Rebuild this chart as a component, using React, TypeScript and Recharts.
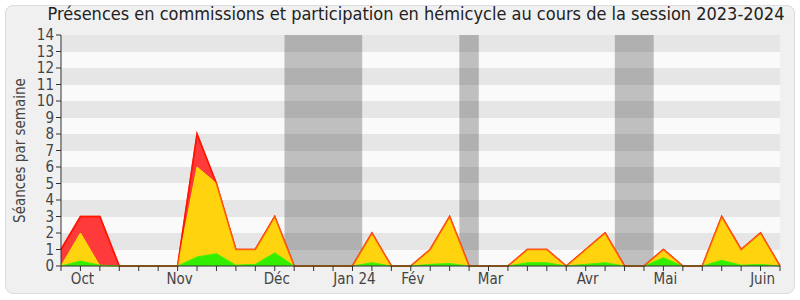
import React from 'react';
import { ComposedChart, Area, Line, XAxis, YAxis, CartesianGrid, ReferenceArea } from 'recharts';

const weeks: number[] = Array.from({ length: 38 }, (_, i) => i);
const totalSeances = [1,3,3,0,0,0,0,8,5,1,1,3,0,0,0,0,2,0,0,1,3,0,0,0,1,1,0,1,2,0,0,1,0,0,3,1,2,0];
const hemicycle = [0,2,0,0,0,0,0,6,5,1,1,3,0,0,0,0,2,0,0,1,3,0,0,0,1,1,0,1,2,0,0,1,0,0,3,1,2,0];
const commissions = [0,0.3,0.05,0,0,0,0,0.55,0.75,0.05,0.1,0.8,0,0,0,0,0.2,0,0,0.1,0.15,0,0,0,0.2,0.2,0,0.1,0.2,0,0,0.5,0,0,0.35,0.05,0.1,0];
const monthLabels: Record<number, string> = { 1: 'Oct', 6: 'Nov', 11: 'Déc', 15: 'Jan 24', 18: 'Fév', 22: 'Mar', 27: 'Avr', 31: 'Mai', 36: 'Juin' };
const vacations: [number, number][] = [[11.5, 15.5], [20.5, 21.5], [28.5, 30.5]];
const yTicks = Array.from({ length: 15 }, (_, i) => i);

const data = weeks.map((w, i) => ({ w, total: totalSeances[i], hemi: hemicycle[i], comm: commissions[i] }));

const FONT = '"DejaVu Sans Condensed", "DejaVu Sans", sans-serif';

export default function App() {
  return (
    <div style={{ position: 'absolute', left: 0, top: 0, width: 800, height: 300, background: '#fff', fontFamily: FONT }}>
      <div style={{ position: 'absolute', left: 5, top: 5, width: 788, height: 287, background: '#F0F0F0', border: '1px solid #DCDCDC', borderRadius: 8 }} />
      <div style={{ position: 'absolute', left: 0, top: 3, width: 832, textAlign: 'center', fontSize: 18, color: '#222', whiteSpace: 'nowrap' }}>
        Présences en commissions et participation en hémicycle au cours de la session 2023-2024
      </div>
      <div style={{ position: 'absolute', left: 0, top: 0 }}>
        <ComposedChart width={800} height={300} data={data} margin={{ top: 35, right: 20, bottom: 0, left: 0 }}>
          <CartesianGrid vertical={false} stroke="none" horizontalFill={['#E6E6E6', '#FAFAFA']} />
          {vacations.map(([a, b], i) => (
            <ReferenceArea key={i} x1={a} x2={b} y1={0} y2={14} fill="#000" fillOpacity={0.235} stroke="none" ifOverflow="visible" />
          ))}
          <XAxis
            dataKey="w"
            type="number"
            domain={[0, 37]}
            ticks={weeks}
            interval={0}
            height={34}
            tickSize={5}
            stroke="#333"
            tickLine={{ stroke: '#333' }}
            axisLine={{ stroke: '#333' }}
            tickFormatter={(v: number) => monthLabels[v] ?? ''}
            tick={{ fill: '#444', fontSize: 15, fontFamily: FONT, dx: 2 }}
          />
          <XAxis
            xAxisId="top"
            orientation="top"
            dataKey="w"
            type="number"
            domain={[0, 37]}
            ticks={weeks}
            interval={0}
            height={0}
            tickSize={2}
            axisLine={false}
            tickLine={{ stroke: '#333' }}
            tick={false}
          />
          <YAxis
            domain={[0, 14]}
            ticks={yTicks}
            interval={0}
            width={61}
            tickSize={5}
            stroke="#333"
            tick={{ fill: '#444', fontSize: 15, fontFamily: FONT }}
            label={{ value: 'Séances par semaine', angle: -90, position: 'insideLeft', offset: 20, style: { fill: '#444', fontSize: 15, fontFamily: FONT, textAnchor: 'middle' } }}
          />
          <Area type="linear" dataKey="total" stroke="#FF0000" strokeWidth={1.5} fill="#FF3A3A" fillOpacity={1} isAnimationActive={false} dot={false} activeDot={false} />
          <Area type="linear" dataKey="hemi" stroke="#FFE400" strokeWidth={1} fill="#FFD30E" fillOpacity={1} isAnimationActive={false} dot={false} activeDot={false} />
          <Area type="linear" dataKey="comm" stroke="#44F200" strokeWidth={1} fill="#33EE00" fillOpacity={1} isAnimationActive={false} dot={false} activeDot={false} />
          <Line type="linear" dataKey="total" stroke="#FF2000" strokeOpacity={0.65} strokeWidth={1.5} dot={false} activeDot={false} isAnimationActive={false} />
        </ComposedChart>
      </div>
    </div>
  );
}
